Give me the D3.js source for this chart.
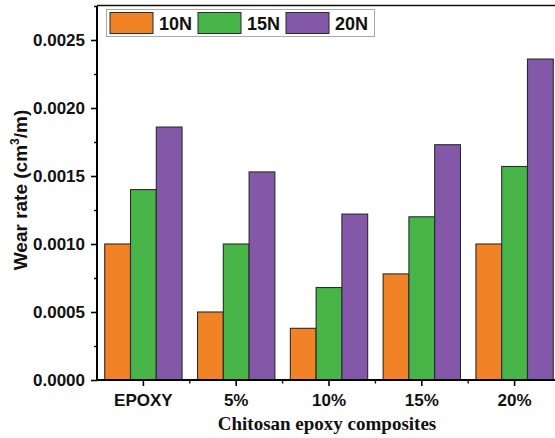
<!DOCTYPE html>
<html>
<head>
<meta charset="utf-8">
<script src="https://cdn.jsdelivr.net/npm/d3@7/dist/d3.min.js"></script>
<style>
  body { margin: 0; background: #fff; }
  svg { display: block; }
</style>
</head>
<body>
<svg id="chart" width="555" height="438"></svg>
<script>
// data
const categories = ["EPOXY", "5%", "10%", "15%", "20%"];
const loads = ["10N", "15N", "20N"];
const wear10N = [0.0010, 0.0005, 0.00038, 0.00078, 0.0010];
const wear15N = [0.0014, 0.0010, 0.00068, 0.0012, 0.00157];
const wear20N = [0.00186, 0.00153, 0.00122, 0.00173, 0.00236];
const yTicks = [0, 0.0005, 0.0010, 0.0015, 0.0020, 0.0025];
const colors = ["#f28226", "#47b548", "#8458a8"];

const series = [wear10N, wear15N, wear20N];

const svg = d3.select("#chart");
const plotLeft = 97, plotRight = 561, plotTop = 6, plotBottom = 380;

const x = d3.scaleBand().domain(categories).range([plotLeft, plotRight]).padding(0);
const xInner = d3.scaleBand().domain(loads).range([0, x.bandwidth()]).paddingOuter(0.3).paddingInner(0);
const y = d3.scaleLinear().domain([0, 0.00275]).range([plotBottom, plotTop]);

// bars
const groups = svg.append("g").selectAll("g")
  .data(categories)
  .enter().append("g")
  .attr("transform", d => "translate(" + x(d) + ",0)");

groups.selectAll("rect")
  .data((d, i) => loads.map((l, j) => ({ load: l, value: series[j][i], j: j })))
  .enter().append("rect")
  .attr("x", d => xInner(d.load))
  .attr("y", d => y(d.value))
  .attr("width", xInner.bandwidth())
  .attr("height", d => plotBottom - y(d.value))
  .attr("fill", d => colors[d.j])
  .attr("stroke", "#2b2b2b")
  .attr("stroke-width", 1.1);

// top frame line
svg.append("line")
  .attr("x1", plotLeft).attr("x2", 555)
  .attr("y1", plotTop - 0.5).attr("y2", plotTop - 0.5)
  .attr("stroke", "#111").attr("stroke-width", 1.6);

// y axis
const yAxis = svg.append("g")
  .attr("transform", "translate(" + plotLeft + ",0)")
  .call(d3.axisLeft(y).tickValues(yTicks).tickFormat(d3.format(".4f")).tickSize(6).tickPadding(6));
yAxis.select(".domain").attr("d", "M0," + (plotBottom + 1) + "V" + plotTop).attr("stroke-width", 2);
yAxis.selectAll(".tick line").attr("stroke-width", 1.6);
yAxis.selectAll("text")
  .style("font-family", "'Liberation Sans', Arial, sans-serif")
  .style("font-size", "17px").style("font-weight", "bold").attr("fill", "#111");

// minor y ticks
svg.append("g")
  .attr("transform", "translate(" + plotLeft + ",0)")
  .call(d3.axisLeft(y).tickValues(yTicks.map(v => v + 0.00025)).tickSize(3).tickFormat(""))
  .call(g => g.select(".domain").remove())
  .selectAll("line").attr("stroke-width", 1.4);

// x axis
const xAxis = svg.append("g")
  .attr("transform", "translate(0," + plotBottom + ")")
  .call(d3.axisBottom(x).tickSize(6).tickPadding(8));
xAxis.select(".domain").attr("d", "M" + (plotLeft - 1) + ",0H555").attr("stroke-width", 2);
xAxis.selectAll(".tick line").attr("stroke-width", 1.6);
xAxis.selectAll("text")
  .style("font-family", "'Liberation Sans', Arial, sans-serif")
  .style("font-size", "17px").style("font-weight", "bold").attr("fill", "#111");

// minor x ticks at band edges
svg.append("g").selectAll("line")
  .data(categories.slice(1))
  .enter().append("line")
  .attr("x1", d => x(d)).attr("x2", d => x(d))
  .attr("y1", plotBottom).attr("y2", plotBottom + 3.5)
  .attr("stroke", "#111").attr("stroke-width", 1.4);

// axis titles
svg.append("text")
  .attr("transform", "translate(27,190) rotate(-90)")
  .attr("text-anchor", "middle")
  .style("font-family", "'Liberation Sans', Arial, sans-serif")
  .style("font-size", "19px").style("font-weight", "bold").attr("fill", "#111")
  .html("Wear rate (cm<tspan dy='-8' font-size='12px'>3</tspan><tspan dy='8'>/m)</tspan>");

svg.append("text")
  .attr("x", (plotLeft + plotRight) / 2 - 2).attr("y", 430)
  .attr("text-anchor", "middle")
  .style("font-family", "'Liberation Serif', 'Times New Roman', serif")
  .style("font-size", "19px").style("font-weight", "bold").attr("fill", "#111")
  .text("Chitosan epoxy composites");

// legend
const legend = svg.append("g");
legend.append("rect")
  .attr("x", 106.5).attr("y", 9.5).attr("width", 268).attr("height", 27)
  .attr("fill", "#fff").attr("stroke", "#aaa").attr("stroke-width", 1);
const items = legend.selectAll("g.item")
  .data(loads)
  .enter().append("g")
  .attr("transform", (d, i) => "translate(" + (110 + i * 88) + ",12.5)");
items.append("rect")
  .attr("width", 43).attr("height", 21)
  .attr("fill", (d, i) => colors[i])
  .attr("stroke", "#2b2b2b").attr("stroke-width", 1);
items.append("text")
  .attr("x", 49).attr("y", 17)
  .style("font-family", "'Liberation Sans', Arial, sans-serif")
  .style("font-size", "18px").style("font-weight", "bold").attr("fill", "#111")
  .text(d => d);
</script>
</body>
</html>
